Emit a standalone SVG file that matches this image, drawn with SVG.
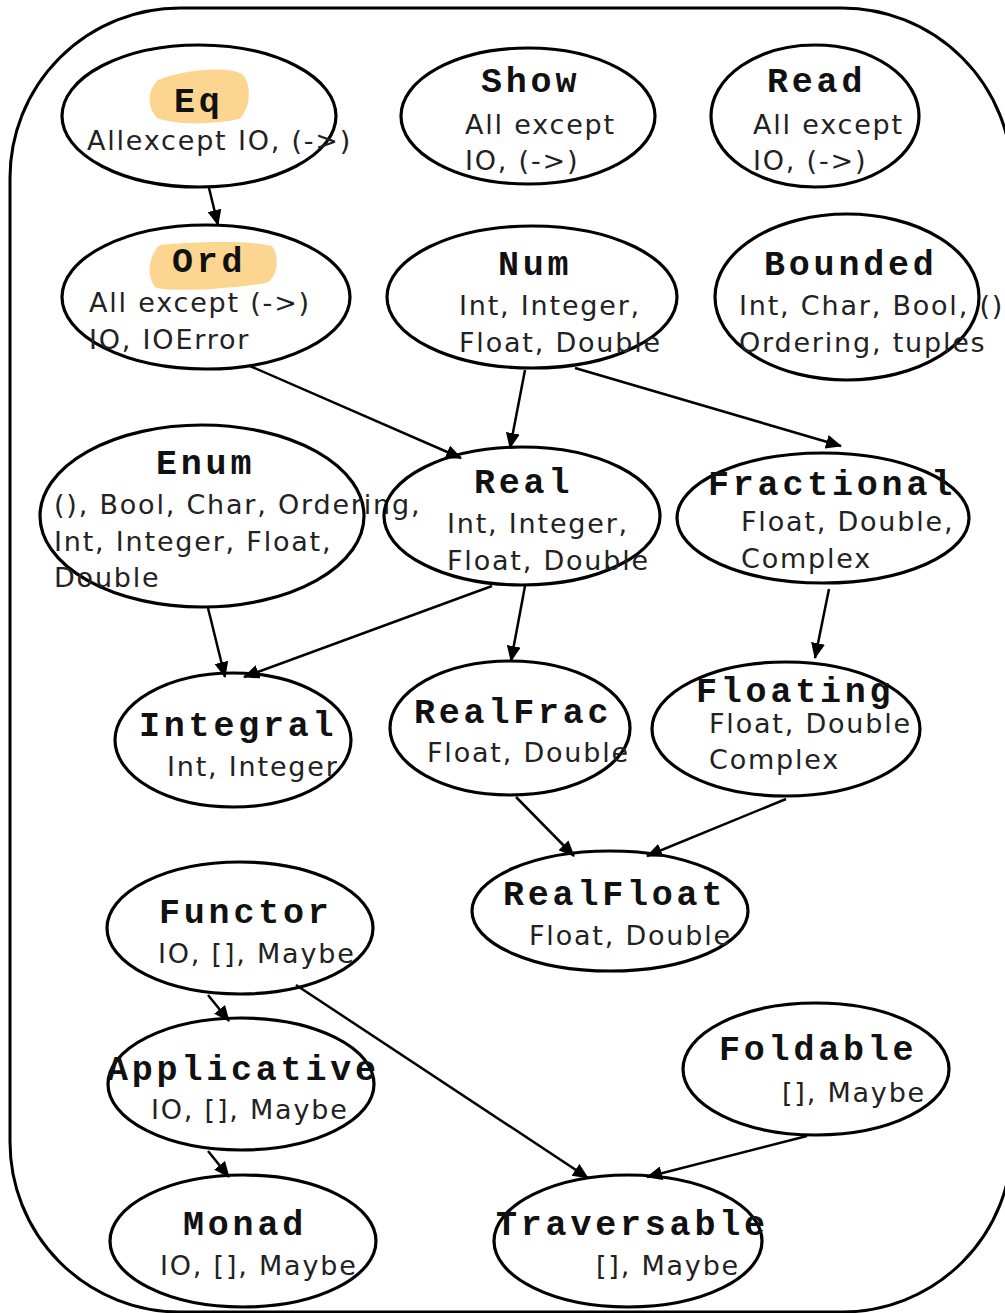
<svg xmlns="http://www.w3.org/2000/svg" width="1005" height="1313" viewBox="0 0 1005 1313">
<defs>
<style>
.node ellipse{fill:none;stroke:#000;stroke-width:3.2}
.t{font-family:"Liberation Mono","Courier New",monospace;font-weight:bold;font-size:35px;letter-spacing:3.8px;fill:#111}
.s{font-family:"DejaVu Sans","Verdana",sans-serif;font-size:27px;letter-spacing:1.8px;fill:#222}
.hl{fill:#fcd690}
#edges line{stroke:#000;stroke-width:2.5;marker-end:url(#arr)}
</style>
<marker id="arr" markerUnits="userSpaceOnUse" markerWidth="16" markerHeight="14" refX="15" refY="7" orient="auto">
<path d="M0,0 L16,7 L0,14 Z" fill="#000"/>
</marker>
</defs>
<rect width="1005" height="1313" fill="#fff"/>
<rect x="10" y="8" width="1002" height="1304" rx="170" ry="170" fill="none" stroke="#000" stroke-width="3"/>

<g id="edges">
<line x1="209" y1="188" x2="218" y2="225"/>
<line x1="250" y1="366" x2="461" y2="458"/>
<line x1="525" y1="370" x2="510" y2="448"/>
<line x1="575" y1="368" x2="841" y2="446"/>
<line x1="208" y1="608" x2="225" y2="677"/>
<line x1="492" y1="586" x2="244" y2="677"/>
<line x1="525" y1="586" x2="511" y2="661"/>
<line x1="829" y1="589" x2="815" y2="658"/>
<line x1="516" y1="797" x2="574" y2="856"/>
<line x1="786" y1="799" x2="647" y2="856"/>
<line x1="208" y1="995" x2="229" y2="1021"/>
<line x1="296" y1="985" x2="588" y2="1178"/>
<line x1="208" y1="1151" x2="229" y2="1177"/>
<line x1="807" y1="1136" x2="647" y2="1177"/>
</g>

<g id="Eq" class="node">
<path class="hl" d="M158,80 C185,69 228,66 242,74 C253,85 250,110 239,119 C210,125 175,125 157,118 C146,106 148,90 158,80 Z"/>
<ellipse cx="199" cy="116" rx="137" ry="71"/>
<text class="t" x="174" y="112">Eq</text>
<text class="s" x="87" y="150">Allexcept IO, (-&gt;)</text>
</g>
<g id="Show" class="node">
<ellipse cx="528" cy="116" rx="127" ry="68"/>
<text class="t" x="481" y="92">Show</text>
<text class="s" x="465" y="134">All except</text>
<text class="s" x="465" y="170">IO, (-&gt;)</text>
</g>
<g id="Read" class="node">
<ellipse cx="815" cy="116" rx="104" ry="71"/>
<text class="t" x="767" y="92">Read</text>
<text class="s" x="753" y="134">All except</text>
<text class="s" x="753" y="170">IO, (-&gt;)</text>
</g>
<g id="Ord" class="node">
<path class="hl" d="M160,245 C200,241 255,241 272,246 C280,256 278,278 266,283 C230,289 180,292 156,288 C146,278 148,255 160,245 Z"/>
<ellipse cx="206" cy="297" rx="144" ry="72"/>
<text class="t" x="172" y="272">Ord</text>
<text class="s" x="89" y="312">All except (-&gt;)</text>
<text class="s" x="89" y="349">IO, IOError</text>
</g>
<g id="Num" class="node">
<ellipse cx="532" cy="297" rx="145" ry="71"/>
<text class="t" x="498" y="275">Num</text>
<text class="s" x="459" y="315">Int, Integer,</text>
<text class="s" x="459" y="352">Float, Double</text>
</g>
<g id="Bounded" class="node">
<ellipse cx="847" cy="297" rx="132" ry="83"/>
<text class="t" x="764" y="275">Bounded</text>
<text class="s" x="739" y="315">Int, Char, Bool, ()</text>
<text class="s" x="739" y="352">Ordering, tuples</text>
</g>
<g id="Enum" class="node">
<ellipse cx="202" cy="516" rx="162" ry="91"/>
<text class="t" x="156" y="474">Enum</text>
<text class="s" x="54" y="514">(), Bool, Char, Ordering,</text>
<text class="s" x="54" y="551">Int, Integer, Float,</text>
<text class="s" x="54" y="587">Double</text>
</g>
<g id="Real" class="node">
<ellipse cx="522" cy="516" rx="138" ry="69"/>
<text class="t" x="474" y="493">Real</text>
<text class="s" x="447" y="533">Int, Integer,</text>
<text class="s" x="447" y="570">Float, Double</text>
</g>
<g id="Fractional" class="node">
<ellipse cx="823" cy="518" rx="146" ry="65"/>
<text class="t" x="708" y="495">Fractional</text>
<text class="s" x="741" y="531">Float, Double,</text>
<text class="s" x="741" y="568">Complex</text>
</g>
<g id="Integral" class="node">
<ellipse cx="233" cy="740" rx="118" ry="67"/>
<text class="t" x="139" y="736">Integral</text>
<text class="s" x="167" y="776">Int, Integer</text>
</g>
<g id="RealFrac" class="node">
<ellipse cx="510" cy="728" rx="120" ry="67"/>
<text class="t" x="414" y="723">RealFrac</text>
<text class="s" x="427" y="762">Float, Double</text>
</g>
<g id="Floating" class="node">
<ellipse cx="786" cy="729" rx="134" ry="67"/>
<text class="t" x="696" y="702">Floating</text>
<text class="s" x="709" y="733">Float, Double</text>
<text class="s" x="709" y="769">Complex</text>
</g>
<g id="RealFloat" class="node">
<ellipse cx="610" cy="911" rx="138" ry="60"/>
<text class="t" x="503" y="905">RealFloat</text>
<text class="s" x="529" y="945">Float, Double</text>
</g>
<g id="Functor" class="node">
<ellipse cx="240" cy="928" rx="133" ry="66"/>
<text class="t" x="159" y="923">Functor</text>
<text class="s" x="158" y="963">IO, [], Maybe</text>
</g>
<g id="Applicative" class="node">
<ellipse cx="241" cy="1084" rx="133" ry="66"/>
<text class="t" x="107" y="1080">Applicative</text>
<text class="s" x="151" y="1119">IO, [], Maybe</text>
</g>
<g id="Foldable" class="node">
<ellipse cx="816" cy="1069" rx="133" ry="66"/>
<text class="t" x="719" y="1060">Foldable</text>
<text class="s" x="782" y="1102">[], Maybe</text>
</g>
<g id="Monad" class="node">
<ellipse cx="243" cy="1241" rx="133" ry="66"/>
<text class="t" x="183" y="1235">Monad</text>
<text class="s" x="160" y="1275">IO, [], Maybe</text>
</g>
<g id="Traversable" class="node">
<ellipse cx="628" cy="1241" rx="134" ry="66"/>
<text class="t" x="496" y="1235">Traversable</text>
<text class="s" x="596" y="1275">[], Maybe</text>
</g>
</svg>
